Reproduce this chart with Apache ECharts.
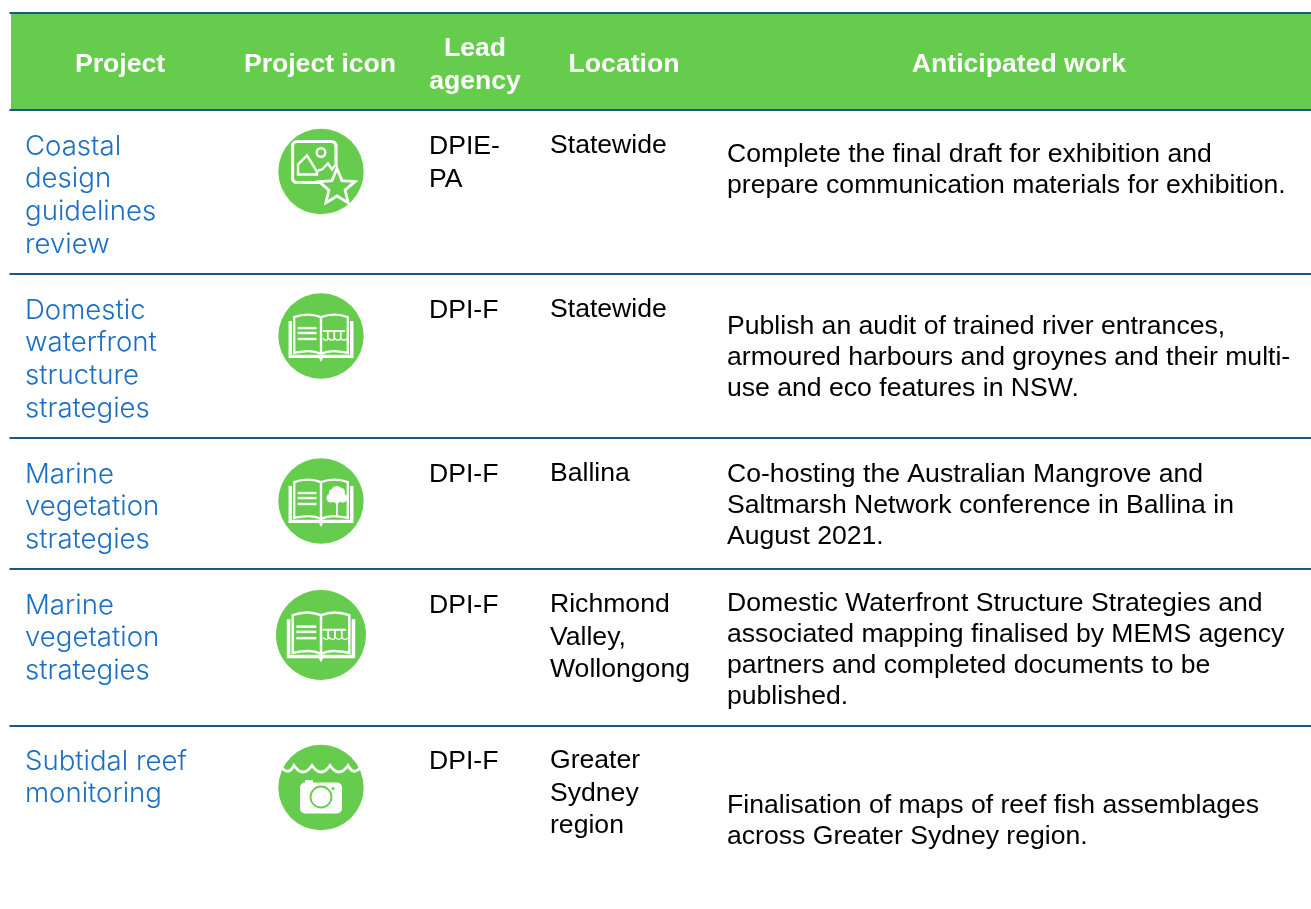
<!DOCTYPE html>
<html><head><meta charset="utf-8">
<style>html,body{margin:0;padding:0;background:#fff}#c{width:1311px;height:909px}</style>
<script src="https://cdn.jsdelivr.net/npm/echarts@6/dist/echarts.min.js"></script>
</head><body><div id="c"></div>
<script>
const headers = ['Project','Project icon','Lead\nagency','Location','Anticipated work'];
const projects = ['Coastal\ndesign\nguidelines\nreview','Domestic\nwaterfront\nstructure\nstrategies','Marine\nvegetation\nstrategies','Marine\nvegetation\nstrategies','Subtidal reef\nmonitoring'];
const icons = ['image','bridge','tree','bridge','camera'];
const agencies = ['DPIE-\nPA','DPI-F','DPI-F','DPI-F','DPI-F'];
const locations = ['Statewide','Statewide','Ballina','Richmond\nValley,\nWollongong','Greater\nSydney\nregion'];
const works = ['Complete the final draft for exhibition and\nprepare communication materials for exhibition.',
 'Publish an audit of trained river entrances,\narmoured harbours and groynes and their multi-\nuse and eco features in NSW.',
 'Co-hosting the Australian Mangrove and\nSaltmarsh Network conference in Ballina in\nAugust 2021.',
 'Domestic Waterfront Structure Strategies and\nassociated mapping finalised by MEMS agency\npartners and completed documents to be\npublished.',
 'Finalisation of maps of reef fish assemblages\nacross Greater Sydney region.'];

const GREEN='#66cc4d', NAVY='#17597f', BLUE='#1a6fc4';
const ruleY=[13,110,274,438,569,726];
const rowTop=[131,295,459,590,746];
const workCY=[170,358,506,650.5,821];
const iconC=[[321,171.5,42.7],[321,336,42.7],[321,501,42.7],[321,635,45],[321,787.5,42.7]];
const g=[];
g.push({type:'rect',shape:{x:11,y:13,width:1300,height:97},style:{fill:GREEN}});
ruleY.forEach(y=>g.push({type:'rect',shape:{x:9.5,y:y-1,width:1302,height:2},style:{fill:NAVY}}));
const hdrX=[120,320,475,624,1019];
headers.forEach((h,i)=>g.push({type:'text',x:hdrX[i],y:65,style:{text:h,fill:'#fff',font:'bold 26.6px "Liberation Sans"',align:'center',verticalAlign:'middle',lineHeight:33}}));
function txt(t,x,y,font,fill,lh,va){g.push({type:'text',x,y,style:{text:t,fill,font,align:'left',verticalAlign:va||'top',lineHeight:lh}});}
const BODY='26.6px "Liberation Sans"';
projects.forEach((t,i)=>txt(t,25,rowTop[i]-1,'300 27.6px Inter',BLUE,32.8));
agencies.forEach((t,i)=>txt(t,429,rowTop[i]-1,BODY,'#000',33));
locations.forEach((t,i)=>txt(t,550,rowTop[i]-1,BODY,'#000',32.3));
works.forEach((t,i)=>txt(t,727,workCY[i],BODY,'#000',30.9,'middle'));

let pathN=0;
function P(d,style){
  const name='iconPath'+(pathN++);
  echarts.graphic.registerShape(name,echarts.graphic.extendPath(d,{}));
  g.push({type:name,style:Object.assign({fill:'none',stroke:'#fff',lineWidth:2,lineJoin:'miter'},style||{})});
}
function R(x,y,w,h,r,fill){g.push({type:'rect',shape:{x,y,width:w,height:h,r:r||0},style:{fill:fill||'#fff'}});}
function book(T,s){
  P(`M${T(-31,-15)} L${T(-31,20.5)} L${T(-1,20.5)} L${T(0,22.5)} L${T(1,20.5)} L${T(31,20.5)} L${T(31,-15)}`,{lineWidth:3.4*s});
  P(`M${T(0,18)} C${T(-8,14)} ${T(-16,15)} ${T(-27,17)} L${T(-27,-19)} C${T(-16,-23)} ${T(-8,-22)} ${T(0,-19)} C${T(8,-22)} ${T(16,-23)} ${T(27,-19)} L${T(27,17)} C${T(16,15)} ${T(8,14)} ${T(0,18)} Z M${T(0,-19)} L${T(0,18)}`,{lineWidth:2.4*s});
  [-8,-3,3].forEach(y=>R(T(-23.5,y)[0],T(-23.5,y)[1]-1.2*s,19*s,2.4*s));
}
icons.forEach((k,i)=>{
  const [cx,cy,r]=iconC[i];
  g.push({type:'circle',shape:{cx,cy,r},style:{fill:GREEN}});
  const s=r/43;
  const T=(x,y)=>[cx+x*s,cy+y*s];
  if(k==='image'){
    P(`M${cx+2},${cy+11} L${cx-24},${cy+11} Q${cx-28.5},${cy+11} ${cx-28.5},${cy+6} L${cx-28.5},${cy-25} Q${cx-28.5},${cy-30} ${cx-24},${cy-30} L${cx+10},${cy-30} Q${cx+15},${cy-30} ${cx+15},${cy-25} L${cx+15},${cy-5}`,{lineWidth:3.2});
    g.push({type:'circle',shape:{cx:cx,cy:cy-19,r:4.3},style:{fill:'none',stroke:'#fff',lineWidth:2.4}});
    P(`M${cx-23},${cy+3} L${cx-23},${cy-7} L${cx-14},${cy-16} L${cx-4},${cy} L${cx-4},${cy+3} Z`,{lineWidth:2.4});
    P(`M${cx-3},${cy-1} L${cx+1},${cy-2} L${cx+7},${cy-8} L${cx+11},${cy-2} L${cx+14},${cy-6}`,{lineWidth:2.4});
    const pts=[];const sx=cx+16,sy=cy+16;
    for(let j=0;j<10;j++){const a=-Math.PI/2+j*Math.PI/5,rr=j%2?8.5:19;pts.push([sx+rr*Math.cos(a),sy+rr*Math.sin(a)]);}
    g.push({type:'polygon',shape:{points:pts},style:{fill:GREEN,stroke:'#fff',lineWidth:2.8}});
  } else if(k==='bridge'||k==='tree'){
    book(T,s);
    if(k==='bridge'){
      R(T(2,-6)[0],T(2,-6)[1],22*s,2*s);
      [6,12.5,19].forEach(x=>R(T(x,-5)[0],T(x,-5)[1],1.7*s,8*s));
      P(`M${T(2,2.5)} Q${T(5,6)} ${T(8,2.5)} Q${T(11,6)} ${T(14,2.5)} Q${T(17,6)} ${T(20,2.5)} Q${T(23,6)} ${T(26,2.5)}`,{lineWidth:1.3*s});
    } else {
      R(T(15.2,-4)[0],T(15.2,-4)[1],1.7*s,19*s);
      [[16,-9,6],[10,-3,4.5],[22,-3,4.5],[12,-8,4],[20,-9,4],[16,-1,3.4]].forEach(c=>g.push({type:'circle',shape:{cx:T(c[0],c[1])[0],cy:T(c[0],c[1])[1],r:c[2]*s},style:{fill:'#fff'}}));
    }
  } else if(k==='camera'){
    P(`M${cx-40},${cy-21} Q${cx-33},${cy-11} ${cx-27},${cy-22} Q${cx-18},${cy-9} ${cx-9},${cy-22} Q${cx},${cy-9} ${cx+9},${cy-22} Q${cx+18},${cy-9} ${cx+27},${cy-22} Q${cx+33},${cy-11} ${cx+40},${cy-21}`,{lineWidth:2.8});
    R(cx-21,cy-5,42,31,5);
    R(cx-16,cy-7.5,8,4,1);
    g.push({type:'circle',shape:{cx:cx,cy:cy+9.5,r:10.5},style:{fill:'#fff',stroke:GREEN,lineWidth:1.8}});
    g.push({type:'circle',shape:{cx:cx+12,cy:cy+1,r:1.5},style:{fill:GREEN}});
  }
});
const chart=echarts.init(document.getElementById('c'),null,{renderer:'canvas'});
chart.setOption({animation:false,backgroundColor:'#fff',graphic:{elements:g}});
</script></body></html>
